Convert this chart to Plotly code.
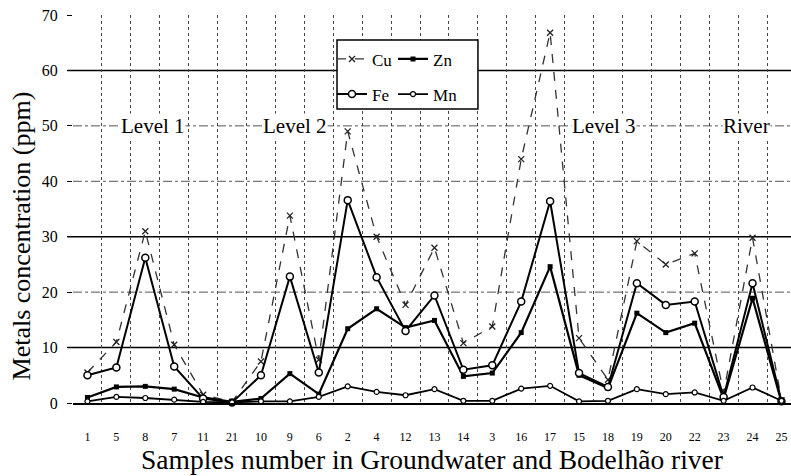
import plotly.graph_objects as go

# Sample numbers along the x axis (grouped by level, then river)
samples = ["1", "5", "8", "7", "11", "21", "10", "9", "6", "2", "4", "12", "13",
           "14", "3", "16", "17", "15", "18", "19", "20", "22", "23", "24", "25"]

# Metal concentrations (ppm) per sample
cu = [5.5, 11.0, 31.0, 10.5, 1.5, 0.2, 7.5, 33.8, 7.8, 49.0, 30.0, 17.7, 28.0,
      10.8, 13.8, 44.0, 66.8, 11.7, 4.2, 29.2, 25.0, 27.0, 1.8, 29.8, 0.5]
fe = [5.0, 6.4, 26.2, 6.6, 0.8, 0.1, 5.0, 22.8, 5.5, 36.6, 22.7, 13.0, 19.4,
      6.0, 6.8, 18.3, 36.4, 5.4, 2.9, 21.6, 17.7, 18.3, 1.1, 21.6, 0.3]
zn = [1.0, 2.9, 3.0, 2.5, 1.0, 0.2, 0.8, 5.3, 1.6, 13.4, 17.0, 13.6, 14.9,
      4.8, 5.4, 12.7, 24.6, 5.0, 2.7, 16.2, 12.7, 14.4, 0.8, 18.9, 0.2]
mn = [0.3, 1.1, 0.9, 0.6, 0.2, 0.1, 0.3, 0.3, 1.1, 3.0, 2.0, 1.4, 2.5,
      0.4, 0.4, 2.6, 3.1, 0.3, 0.4, 2.5, 1.6, 1.9, 0.4, 2.8, 0.4]

# Region labels and their positions (category index units)
level_labels = ["Level 1", "Level 2", "Level 3", "River"]
level_pos = [2.28, 7.16, 17.88, 22.8]
level_y = 50

solid_grid = [10, 30, 60]
dashed_grid = [20, 40, 50]

SERIF = "Liberation Serif, Times New Roman, serif"

fig = go.Figure()

fig.add_trace(go.Scatter(
    x=samples, y=cu, name="Cu", mode="lines+markers",
    line=dict(color="#333333", width=1.3, dash="dash"),
    marker=dict(symbol="x-thin-open", size=6, color="#222222",
                line=dict(width=1.3, color="#222222")),
    legend="legend", legendgroup="cu", cliponaxis=False,
))
fig.add_trace(go.Scatter(
    x=samples, y=zn, name="Zn", mode="lines+markers",
    line=dict(color="black", width=2.2),
    marker=dict(symbol="square", size=5, color="black"),
    legend="legend2", legendgroup="zn", cliponaxis=False,
))
fig.add_trace(go.Scatter(
    x=samples, y=fe, name="Fe", mode="lines+markers",
    line=dict(color="black", width=2),
    marker=dict(symbol="circle", size=7, color="white",
                line=dict(width=1.5, color="black")),
    legend="legend", legendgroup="fe", cliponaxis=False,
))
fig.add_trace(go.Scatter(
    x=samples, y=mn, name="Mn", mode="lines+markers",
    line=dict(color="black", width=1.8),
    marker=dict(symbol="circle", size=5, color="white",
                line=dict(width=1.2, color="black")),
    legend="legend2", legendgroup="mn", cliponaxis=False,
))

shapes = []
for v in dashed_grid:
    shapes.append(dict(type="line", xref="paper", yref="y", x0=0, x1=1, y0=v, y1=v,
                       line=dict(color="#555555", width=1, dash="dashdot"), layer="below"))
for v in solid_grid:
    shapes.append(dict(type="line", xref="paper", yref="y", x0=-0.008, x1=1, y0=v, y1=v,
                       line=dict(color="black", width=1.6), layer="below"))
# legend frame, drawn over the grid
shapes.append(dict(type="rect", xref="paper", yref="paper",
                   x0=0.3677, x1=0.564, y0=0.7577, y1=0.9356,
                   line=dict(color="black", width=1.5), fillcolor="white", layer="above"))

annotations = []
for lab, px in zip(level_labels, level_pos):
    annotations.append(dict(x=px, y=level_y, xref="x", yref="y", text=lab,
                            showarrow=False, font=dict(family=SERIF, size=21, color="black"),
                            bgcolor="white", borderpad=0))
# y axis title
annotations.append(dict(x=-0.072, y=0.43, xref="paper", yref="paper",
                        text="Metals concentration (ppm)", textangle=-90,
                        showarrow=False, xanchor="center", yanchor="middle",
                        font=dict(family=SERIF, size=26, color="black")))

legend_common = dict(
    font=dict(family=SERIF, size=17, color="black"),
    bgcolor="rgba(0,0,0,0)", borderwidth=0, orientation="v",
    xanchor="left", yanchor="top", tracegroupgap=10, itemwidth=30,
)

fig.update_layout(
    width=791, height=476,
    margin=dict(l=73, r=0, t=15, b=73),
    paper_bgcolor="white", plot_bgcolor="white",
    font=dict(family=SERIF, color="black"),
    showlegend=True,
    legend=dict(x=0.3607, y=0.932, **legend_common),
    legend2=dict(x=0.4457, y=0.932, **legend_common),
    shapes=shapes,
    annotations=annotations,
    xaxis=dict(
        type="category", range=[-0.5, 24.33],
        tickson="boundaries", showgrid=True, gridcolor="#444444",
        griddash="dot", gridwidth=1,
        showline=True, linecolor="black", linewidth=2.2,
        ticks="", ticklabelstandoff=21,
        tickfont=dict(family=SERIF, size=12, color="black"),
        title=dict(text="Samples number in Groundwater and Bodelhão river",
                   font=dict(family=SERIF, size=27.5, color="black"), standoff=0),
        zeroline=False,
    ),
    yaxis=dict(
        range=[0, 70], tickvals=[0, 10, 20, 30, 40, 50, 60, 70],
        showgrid=False, zeroline=False, showline=False,
        ticks="outside", ticklen=5, tickcolor="black", tickwidth=1,
        ticklabelstandoff=6,
        tickfont=dict(family=SERIF, size=16, color="black"),
    ),
)

fig.write_html("out.html")
